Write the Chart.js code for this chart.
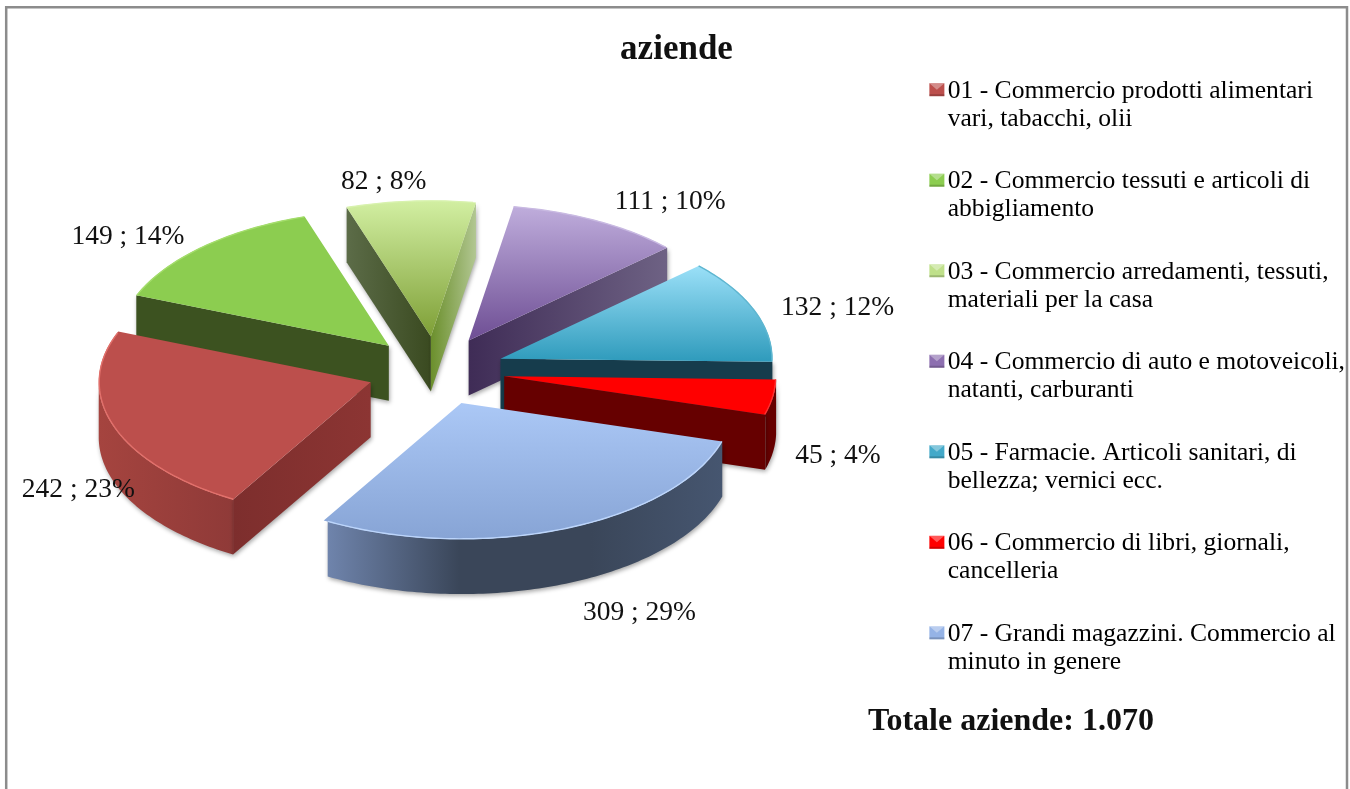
<!DOCTYPE html>
<html><head><meta charset="utf-8">
<style>html,body{margin:0;padding:0;background:#fff}canvas{display:block}</style>
<script src="https://cdn.jsdelivr.net/npm/chart.js@4"></script>
</head><body><canvas id="c" width="1350" height="789"></canvas>
<script>
const categories = [
  ['01 - Commercio prodotti alimentari','vari, tabacchi, olii'],
  ['02 - Commercio tessuti e articoli di','abbigliamento'],
  ['03 - Commercio arredamenti, tessuti,','materiali per la casa'],
  ['04 - Commercio di auto e motoveicoli,','natanti, carburanti'],
  ['05 - Farmacie. Articoli sanitari, di','bellezza; vernici ecc.'],
  ['06 - Commercio di libri, giornali,','cancelleria'],
  ['07 - Grandi magazzini. Commercio al','minuto in genere']
];
const values = [242,149,82,111,132,45,309];
const titleText = 'aziende';
const totalText = 'Totale aziende: 1.070';

const topColors = [['#BC4F4C'],['#8CCD50'],['#D2EFA2','#7E9F36'],['#BFADDC','#6E4E94'],['#9BE0F8','#2F9BBC'],['#FF0000'],['#ABC8F6','#87A4D5']];
const rimColors = ['#E2706B','#A4DD6C','#D8F2AE','#C9BAE2','#5FB6D0','#FF3030','#BCD5FB'];
const startWall = [['#7D2E2D','#8C3533'],['#3C5220','#3C5220'],['#5C6C48','#3A4A20'],null,null,null,null];
const endWall   = [null,null,['#6B8F2C','#B2C792'],['#3F2C56','#6E6284'],['#163C4C','#163C4C'],['#660000','#660000'],null];
const bandColors= [['#A5443F','#8F3A38'],['#3C5220','#3C5220'],['#6B8F2C','#B2C792'],['#6E6284','#6E6284'],['#163C4C','#163C4C'],['#660000','#660000'],['#6F84AC','#3A4659','#3A4659','#465670']];
const legendColors = ['#BC4F4C','#8CCD50','#BFE08A','#8D6FB0','#43A9C9','#FF0000','#95B3E6'];
const labelNudges = [[-35,64],[-75,-10],[-27,-19],[73,-19],[83,-2],[65,58],[78,83]];

const SERIF = '"Liberation Serif", serif';
const CENTER_X = 436, CENTER_Y = 371, SQUASH = 0.5, DEPTH = 55, RADIUS = 272, EXPLODE = 69, ROTATION = 210.4;

const total = values.reduce((a,b)=>a+b,0);
function sliceAngles(i){
  let s = (ROTATION-90)*Math.PI/180;
  for(let j=0;j<i;j++) s += values[j]/total*2*Math.PI;
  return [s, s+values[i]/total*2*Math.PI];
}
function topFill(ctx){
  const colors = topColors[ctx.dataIndex];
  if(colors.length===1 || !ctx.chart.chartArea) return colors[0];
  const [s,e] = sliceAngles(ctx.dataIndex);
  const ca = ctx.chart.chartArea, cy=(ca.top+ca.bottom)/2;
  let lo=0,hi=0;
  for(let a=s;a<=e;a+=0.01){const y=Math.sin(a)*RADIUS;lo=Math.min(lo,y);hi=Math.max(hi,y);}
  const g = ctx.chart.ctx.createLinearGradient(0,cy+lo,0,cy+hi);
  g.addColorStop(0,colors[0]);g.addColorStop(1,colors[1]);
  return g;
}
function toScreen(arc,a,r){
  const o = EXPLODE, mid=(arc.startAngle+arc.endAngle)/2;
  return {x:CENTER_X+Math.cos(mid)*o+Math.cos(a)*r, y:CENTER_Y+(Math.sin(mid)*o+Math.sin(a)*r)*SQUASH};
}
function hGrad(ctx,x0,x1,stops){
  const g=ctx.createLinearGradient(Math.min(x0,x1),0,Math.max(x0,x1)+0.01,0);
  stops.forEach((c,i)=>g.addColorStop(stops.length>1?i/(stops.length-1):0,c));
  return g;
}
const pie3d = {
  id:'pie3d',
  beforeDraw(chart){
    const c=chart.ctx;c.save();c.fillStyle='#fff';c.fillRect(0,0,1350,789);
    c.strokeStyle='#8C8C8C';c.lineWidth=2.5;c.beginPath();
    c.moveTo(6.2,789);c.lineTo(6.2,7.2);c.lineTo(1347,7.2);c.lineTo(1347,789);c.stroke();c.restore();
  },
  beforeDatasetsDraw(chart){
    const c=chart.ctx, arcs=chart.getDatasetMeta(0).data;
    const order=arcs.map((a,i)=>i).sort((p,q)=>toScreen(arcs[p],0,0).y-toScreen(arcs[q],0,0).y);
    c.save();
    c.shadowColor='rgba(0,0,0,0.35)';c.shadowBlur=4;c.shadowOffsetX=1;c.shadowOffsetY=2;
    order.forEach(i=>{
      const arc=arcs[i], apex=toScreen(arc,0,0);
      const pts=[];
      for(let a=arc.startAngle;a<=arc.endAngle+1e-6;a+=Math.PI/180){
        if(Math.sin(a)>=0) pts.push(toScreen(arc,a,RADIUS));
      }
      if(pts.length>1){
        c.beginPath();
        pts.forEach((p,k)=>k?c.lineTo(p.x,p.y):c.moveTo(p.x,p.y));
        pts.slice().reverse().forEach(p=>c.lineTo(p.x,p.y+DEPTH));
        c.closePath();
        c.fillStyle=hGrad(c,Math.min(...pts.map(p=>p.x)),Math.max(...pts.map(p=>p.x)),bandColors[i]);
        c.fill();
      }
      [[arc.startAngle,startWall[i]],[arc.endAngle,endWall[i]]].forEach(([a,col])=>{
        if(!col) return;
        const e=toScreen(arc,a,RADIUS);
        c.beginPath();c.moveTo(apex.x,apex.y);c.lineTo(e.x,e.y);c.lineTo(e.x,e.y+DEPTH);c.lineTo(apex.x,apex.y+DEPTH);c.closePath();
        c.fillStyle=hGrad(c,apex.x,e.x,col);c.fill();
      });
    });
    c.restore();
    arcs.forEach(arc=>{
      if(arc.exploded) return;
      arc.exploded=true;
      const draw=arc.draw;
      arc.draw=function(ctx,area){
        const mid=(this.startAngle+this.endAngle)/2;
        ctx.save();ctx.translate(Math.cos(mid)*EXPLODE,Math.sin(mid)*EXPLODE);
        draw.call(this,ctx,area);ctx.restore();
      };
    });
    c.save();
    const a0=arcs[0];
    c.translate(CENTER_X,CENTER_Y);c.scale(1,SQUASH);c.translate(-a0.x,-a0.y);
  },
  afterDatasetsDraw(chart){
    const c=chart.ctx, arcs=chart.getDatasetMeta(0).data;
    c.restore();
    c.save();c.lineWidth=1.4;
    arcs.forEach((arc,i)=>{
      c.beginPath();let n=0;
      for(let a=arc.startAngle;a<=arc.endAngle+1e-6;a+=Math.PI/180){
        const p=toScreen(arc,a,RADIUS-0.5);n?c.lineTo(p.x,p.y):c.moveTo(p.x,p.y);n++;
      }
      c.strokeStyle=rimColors[i];c.stroke();
    });
    c.restore();
  },
  afterDraw(chart){
    const c=chart.ctx, arcs=chart.getDatasetMeta(0).data;
    c.save();c.fillStyle='#111';c.textAlign='center';c.textBaseline='middle';
    c.font='27.5px '+SERIF;
    arcs.forEach((arc,i)=>{
      const mid=(arc.startAngle+arc.endAngle)/2, p=toScreen(arc,mid,RADIUS);
      c.fillText(values[i]+' ; '+Math.round(values[i]/total*100)+'%',p.x+labelNudges[i][0],p.y+labelNudges[i][1]);
    });
    c.font='bold 32px '+SERIF;
    c.fillText(totalText,1011,722);
    const boxes=chart.legend.legendHitBoxes;
    boxes.forEach((b,i)=>{
      const x=b.left+0.5,y=b.top+5,w=15,h=13;
      const g=c.createLinearGradient(0,y,0,y+h);
      g.addColorStop(0,legendColors[i]);g.addColorStop(1,legendColors[i]);
      c.fillStyle=g;c.fillRect(x,y,w,h);
      c.fillStyle='rgba(255,255,255,0.35)';c.beginPath();c.moveTo(x,y);c.lineTo(x+w,y);c.lineTo(x+w/2,y+h/2);c.closePath();c.fill();
      c.fillStyle='rgba(0,0,0,0.18)';c.fillRect(x,y+h-2,w,2);
    });
    c.restore();
  }
};
new Chart(document.getElementById('c'),{
  type:'pie',
  data:{labels:categories,datasets:[{data:values,backgroundColor:topFill,borderWidth:0,clip:false}]},
  plugins:[pie3d],
  options:{
    responsive:false,animation:false,rotation:ROTATION,radius:RADIUS,
    layout:{padding:{left:-2,right:-5}},
    plugins:{
      tooltip:{enabled:false},
      title:{display:true,text:titleText,color:'#111',font:{family:SERIF,size:35,weight:'bold',lineHeight:1.2},padding:{top:29,bottom:-27}},
      legend:{position:'right',align:'start',fullSize:false,labels:{
        color:'#111',boxWidth:6,boxHeight:6,padding:34.2,font:{family:SERIF,size:25.6,lineHeight:1.1},
        generateLabels:()=>categories.map((t,i)=>({text:t,fillStyle:'rgba(0,0,0,0)',strokeStyle:'rgba(0,0,0,0)',lineWidth:0,hidden:false,index:i}))
      }}
    }
  }
});
</script></body></html>
